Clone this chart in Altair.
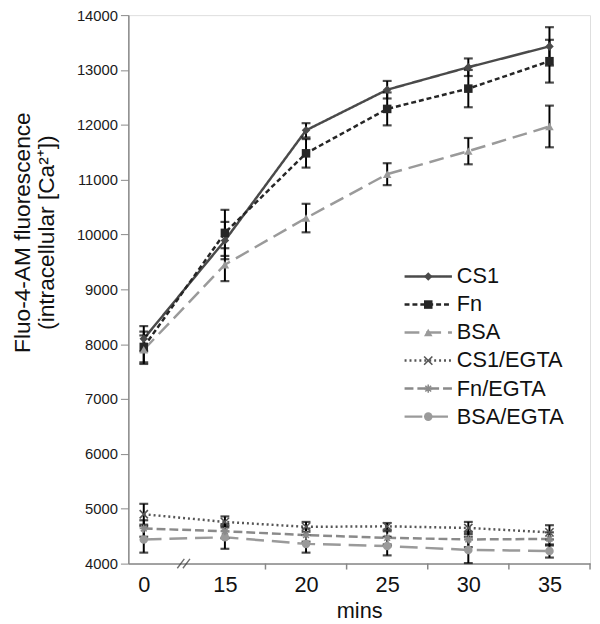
import altair as alt
import pandas as pd

# ---------------- data ----------------
categories = ["0", "15", "20", "25", "30", "35"]
series_names = ["CS1", "Fn", "BSA", "CS1/EGTA", "Fn/EGTA", "BSA/EGTA"]

cs1 = [8100, 9890, 11900, 12640, 13050, 13430]
cs1_err = [230, 340, 130, 160, 160, 350]
fn = [7950, 10030, 11480, 12290, 12660, 13160]
fn_err = [280, 420, 260, 300, 340, 390]
bsa = [7900, 9450, 10300, 11100, 11520, 11970]
bsa_err = [260, 300, 260, 200, 240, 380]
cs1_egta = [4900, 4760, 4670, 4680, 4650, 4570]
cs1_egta_err = [190, 100, 90, 60, 110, 130]
fn_egta = [4640, 4590, 4520, 4470, 4440, 4450]
fn_egta_err = [150, 130, 120, 120, 140, 120]
bsa_egta = [4440, 4480, 4360, 4320, 4250, 4230]
bsa_egta_err = [240, 210, 160, 170, 240, 120]

values = [cs1, fn, bsa, cs1_egta, fn_egta, bsa_egta]
errors = [cs1_err, fn_err, bsa_err, cs1_egta_err, fn_egta_err, bsa_egta_err]

# styles
line_colors = ["#4a4a4a", "#262626", "#9a9a9a", "#555555", "#8a8a8a", "#9a9a9a"]
dashes = [[1, 0], [5, 3], [15, 7], [2, 3], [9, 4], [18, 8]]
widths = [2.5, 2.5, 2.5, 2, 2.5, 3]
X_PATH = "M-1,-1L1,1M-1,1L1,-1"
AST_PATH = "M-1,0L1,0M0,-1L0,1M-0.7,-0.7L0.7,0.7M-0.7,0.7L0.7,-0.7"
shapes = ["diamond", "square", "triangle-up", X_PATH, AST_PATH, "circle"]
stroked_series = ["CS1/EGTA", "Fn/EGTA"]
filled_series = [s for s in series_names if s not in stroked_series]

rows = []
for name, vals, errs in zip(series_names, values, errors):
    for i, (v, e) in enumerate(zip(vals, errs)):
        rows.append({"series": name, "idx": i, "value": v, "lo": v - e, "hi": v + e})
df = pd.DataFrame(rows)

mid_ticks = pd.DataFrame({"m": [i + 0.5 for i in range(1, len(categories))]})
legend_df = pd.DataFrame({"series": series_names})

W, H = 468, 556
TOP = 3
FONT = "Liberation Sans"

color_scale = alt.Scale(domain=series_names, range=line_colors)
dash_scale = alt.Scale(domain=series_names, range=dashes)
width_scale = alt.Scale(domain=series_names, range=widths)
shape_scale = alt.Scale(domain=series_names, range=shapes)

label_expr = "[" + ",".join("'%s'" % c for c in categories) + "][datum.value]"

x_enc = alt.X(
    "idx:Q",
    scale=alt.Scale(domain=[-0.19, len(categories) - 0.5], nice=False, zero=False),
    axis=alt.Axis(
        values=list(range(len(categories))),
        labelExpr=label_expr,
        ticks=False,
        grid=False,
        domainColor="#888888",
        domainWidth=1.5,
        labelFontSize=22,
        labelColor="#111111",
        labelPadding=11,
        labelFont=FONT,
        title="mins",
        titleFontSize=22,
        titleFontWeight="normal",
        titleColor="#111111",
        titleFont=FONT,
        titlePadding=6,
    ),
)
y_enc = alt.Y(
    "value:Q",
    scale=alt.Scale(domain=[4000, 14000], nice=False, zero=False),
    axis=alt.Axis(
        values=list(range(4000, 14001, 1000)),
        format="d",
        grid=False,
        tickSize=8,
        tickColor="#888888",
        domainColor="#888888",
        domainWidth=1.5,
        labelFontSize=15,
        labelColor="#1a1a1a",
        labelPadding=3,
        labelFont=FONT,
        title=["Fluo-4-AM fluorescence", "(intracellular [Ca²⁺])"],
        titleFontSize=23,
        titleLineHeight=24,
        titleFontWeight="normal",
        titleColor="#111111",
        titleFont=FONT,
        titleAngle=270,
        titleAlign="center",
        titleBaseline="middle",
        titleX=-107,
        titleY=220,
    ),
)

base = alt.Chart(df)
color_enc = alt.Color("series:N", scale=color_scale, legend=None)

lines = base.mark_line().encode(
    x=x_enc,
    y=y_enc,
    color=color_enc,
    strokeDash=alt.StrokeDash("series:N", scale=dash_scale, legend=None),
    strokeWidth=alt.StrokeWidth("series:N", scale=width_scale, legend=None),
    order="idx:Q",
)
err_rules = base.mark_rule(color="black", strokeWidth=2).encode(
    x="idx:Q", y="lo:Q", y2="hi:Q"
)
err_lo = base.mark_tick(color="black", orient="horizontal", size=9, thickness=2.2).encode(
    x="idx:Q", y="lo:Q"
)
err_hi = base.mark_tick(color="black", orient="horizontal", size=9, thickness=2.2).encode(
    x="idx:Q", y="hi:Q"
)
pts_filled = base.mark_point(filled=True, opacity=1, size=75).encode(
    x="idx:Q",
    y="value:Q",
    color=color_enc,
    shape=alt.Shape("series:N", scale=shape_scale, legend=None),
).transform_filter(alt.FieldOneOfPredicate(field="series", oneOf=filled_series))
pts_stroked = base.mark_point(filled=False, opacity=1, size=70, strokeWidth=1.6).encode(
    x="idx:Q",
    y="value:Q",
    color=color_enc,
    shape=alt.Shape("series:N", scale=shape_scale, legend=None),
).transform_filter(alt.FieldOneOfPredicate(field="series", oneOf=stroked_series))

ticks_mid = alt.Chart(mid_ticks).mark_rule(color="#888888", strokeWidth=1.5).encode(
    x="m:Q", y=alt.value(H), y2=alt.value(H + 6)
)
brk = alt.Chart(pd.DataFrame({"b": [0.5]})).mark_point(
    shape="M-1.5,1L0,-1M-0.3,1L1.2,-1", size=90, filled=False, color="#333333", strokeWidth=1.4
).encode(x="b:Q", y=alt.value(H))

main = alt.layer(lines, err_rules, err_lo, err_hi, pts_filled, pts_stroked, ticks_mid, brk)

# ---------------- legend ----------------
leg_y = alt.Y(
    "series:N",
    scale=alt.Scale(type="point", domain=series_names, range=[276 - 8 - TOP, 418 - 8 - TOP], padding=0),
    axis=None,
)
lbase = alt.Chart(legend_df)
leg_lines = lbase.mark_rule().encode(
    x=alt.value(280),
    x2=alt.value(328),
    y=leg_y,
    color=color_enc,
    strokeDash=alt.StrokeDash("series:N", scale=dash_scale, legend=None),
    strokeWidth=alt.StrokeWidth("series:N", scale=width_scale, legend=None),
)
leg_pf = lbase.mark_point(filled=True, opacity=1, size=75).encode(
    x=alt.value(304),
    y=leg_y,
    color=color_enc,
    shape=alt.Shape("series:N", scale=shape_scale, legend=None),
).transform_filter(alt.FieldOneOfPredicate(field="series", oneOf=filled_series))
leg_ps = lbase.mark_point(filled=False, opacity=1, size=70, strokeWidth=1.6).encode(
    x=alt.value(304),
    y=leg_y,
    color=color_enc,
    shape=alt.Shape("series:N", scale=shape_scale, legend=None),
).transform_filter(alt.FieldOneOfPredicate(field="series", oneOf=stroked_series))
leg_text = lbase.mark_text(
    align="left", baseline="middle", fontSize=22, font=FONT, color="#111111"
).encode(x=alt.value(333), y=leg_y, text="series:N")

legend = alt.layer(leg_lines, leg_pf, leg_ps, leg_text)

chart = (
    alt.layer(main, legend)
    .resolve_scale(y="independent")
    .properties(
        width=W,
        height=H,
        autosize=alt.AutoSizeParams(type="none"),
        padding={"left": 122, "top": TOP, "right": 2, "bottom": 57},
    )
    .configure_view(stroke=None)
    .configure(font=FONT)
)

chart.save("out.html", embed_options={"renderer": "svg", "actions": False})
